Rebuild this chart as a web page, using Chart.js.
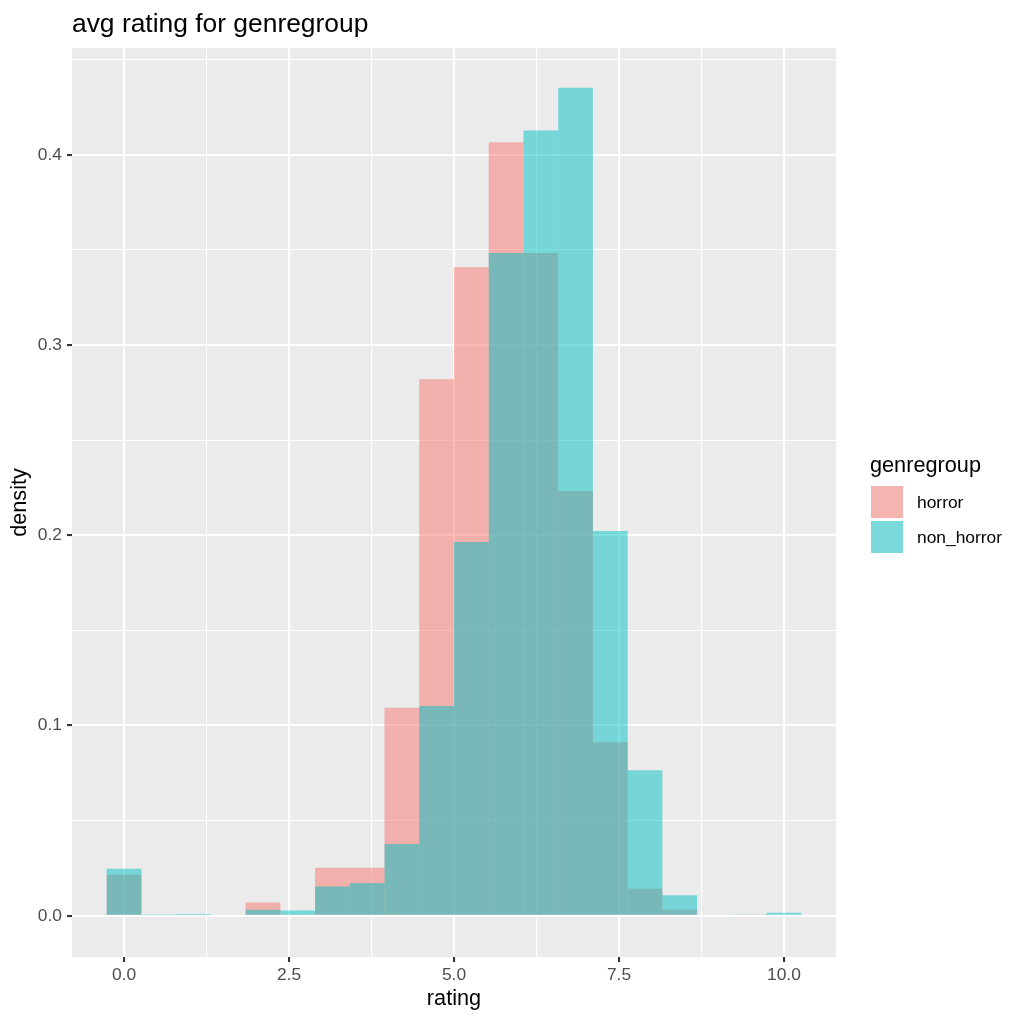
<!DOCTYPE html>
<html>
<head>
<meta charset="utf-8">
<title>avg rating for genregroup</title>
<script src="https://cdn.jsdelivr.net/npm/chart.js@4/dist/chart.umd.min.js"></script>
<style>
  html, body { margin: 0; padding: 0; background: #fff; }
  canvas { display: block; }
</style>
</head>
<body>
<canvas id="ratingHist" width="1024" height="1024"></canvas>
<script>
// histogram bin centres (20 bins across the 0..10 rating range)
const ratingBins = [0, 0.5263, 1.0526, 1.5789, 2.1053, 2.6316, 3.1579, 3.6842, 4.2105, 4.7368,
                    5.2632, 5.7895, 6.3158, 6.8421, 7.3684, 7.8947, 8.4211, 8.9474, 9.4737, 10];

// density per bin
const horror    = [0.0216, 0, 0, 0, 0.0070, 0, 0.0252, 0.0252, 0.1093, 0.2821,
                   0.3409, 0.4067, 0.3484, 0.2233, 0.0912, 0.0142, 0.0032, 0, 0, 0];
const nonHorror = [0.0247, 0.0003, 0.0009, 0, 0.0032, 0.0028, 0.0153, 0.0172, 0.0377, 0.1102,
                   0.1965, 0.3484, 0.4128, 0.4353, 0.2023, 0.0765, 0.0107, 0, 0.0007, 0.0016];

const groupNames = ['horror', 'non_horror'];
const groupColors = ['#F8766D', '#00BFC4'];

const xMajorTicks = [0, 2.5, 5, 7.5, 10];
const xTickLabels = ['0.0', '2.5', '5.0', '7.5', '10.0'];
const xMinorTicks = [1.25, 3.75, 6.25, 8.75];
const yMajorTicks = [0, 0.1, 0.2, 0.3, 0.4];
const yTickLabels = ['0.0', '0.1', '0.2', '0.3', '0.4'];
const yMinorTicks = [0.05, 0.15, 0.25, 0.35, 0.45];

const FONT = "'Liberation Sans', Arial, Helvetica, sans-serif";
Chart.defaults.font.family = FONT;

function hexToRgba(hex, alpha) {
  hex = hex.replace(/^#/, '');
  const r = parseInt(hex.slice(0, 2), 16);
  const g = parseInt(hex.slice(2, 4), 16);
  const b = parseInt(hex.slice(4, 6), 16);
  return `rgba(${r}, ${g}, ${b}, ${alpha})`;
}

function isMajor(major, value) {
  return major.some(m => Math.abs(m - value) < 1e-9);
}

function setTicks(major, minor) {
  return scale => {
    scale.ticks = major.concat(minor).sort((a, b) => a - b).map(v => ({ value: v }));
  };
}

function tickLabel(major, labels) {
  return value => {
    const i = major.findIndex(m => Math.abs(m - value) < 1e-9);
    return i >= 0 ? labels[i] : '';
  };
}

// ggplot-ish grid: white major + thinner minor lines, dark tick marks only on majors
function ggGrid(major) {
  const maj = ctx => ctx.tick && isMajor(major, ctx.tick.value);
  return {
    offset: false,
    color: '#FFFFFF',
    lineWidth: ctx => maj(ctx) ? 2.1 : 1.1,
    drawTicks: true,
    tickLength: 5,
    tickColor: ctx => maj(ctx) ? '#333333' : 'rgba(0,0,0,0)',
    tickWidth: ctx => maj(ctx) ? 2.1 : 0,
  };
}

const ggDecor = {
  id: 'ggDecor',
  beforeDraw(chart) {
    const { ctx, chartArea: a } = chart;
    ctx.save();
    ctx.fillStyle = '#FFFFFF';
    ctx.fillRect(0, 0, chart.width, chart.height);
    ctx.fillStyle = '#EBEBEB';
    ctx.fillRect(a.left, a.top, a.right - a.left, a.bottom - a.top);
    ctx.restore();
  },
  afterDraw(chart, args, opts) {
    const { ctx, chartArea: a } = chart;
    ctx.save();
    ctx.textBaseline = 'alphabetic';
    ctx.textAlign = 'left';

    // plot title
    ctx.fillStyle = '#000000';
    ctx.font = `26.4px ${FONT}`;
    ctx.fillText(opts.title, a.left, 32);

    // legend
    const lx = a.right + 35;
    ctx.font = `21.7px ${FONT}`;
    ctx.fillText(opts.legendTitle, lx - 1, 472);
    ctx.font = `17.4px ${FONT}`;
    chart.data.datasets.forEach((ds, i) => {
      const top = 486 + i * 35;
      ctx.fillStyle = '#F2F2F2';
      ctx.fillRect(lx, top, 32, 32);
      ctx.fillStyle = ds.backgroundColor;
      ctx.fillRect(lx, top, 32, 32);
      ctx.fillStyle = '#000000';
      ctx.fillText(ds.label, lx + 46, top + 22);
    });
    ctx.restore();
  }
};

const ctx = document.getElementById('ratingHist').getContext('2d');

new Chart(ctx, {
  type: 'bar',
  data: {
    datasets: [horror, nonHorror].map((vals, i) => ({
      label: groupNames[i],
      data: ratingBins.map((x, j) => ({ x: x, y: vals[j] })),
      backgroundColor: hexToRgba(groupColors[i], 0.5),
      borderWidth: 0,
      inflateAmount: 0,
      grouped: false,
      barPercentage: 1,
      categoryPercentage: 1,
      order: i === 0 ? 1 : 0,   // non_horror drawn on top
    })),
  },
  options: {
    responsive: false,
    animation: false,
    layout: { padding: { top: 48, left: 0, right: 188, bottom: 0 } },
    plugins: {
      legend: { display: false },
      tooltip: { enabled: false },
      title: { display: false },
      ggDecor: { title: 'avg rating for genregroup', legendTitle: 'genregroup' },
    },
    scales: {
      x: {
        type: 'linear',
        offset: false,
        min: -0.789,
        max: 10.789,
        afterBuildTicks: setTicks(xMajorTicks, xMinorTicks),
        afterFit: scale => { scale.height = 67; },
        grid: ggGrid(xMajorTicks),
        border: { display: false },
        ticks: {
          autoSkip: false,
          maxRotation: 0,
          padding: 3,
          color: '#4D4D4D',
          font: { size: 17.4 },
          callback: tickLabel(xMajorTicks, xTickLabels),
        },
        title: {
          display: true,
          text: 'rating',
          color: '#000000',
          font: { size: 21.7 },
          padding: { top: 0, bottom: 11.5 },
        },
      },
      y: {
        type: 'linear',
        min: -0.0217,
        max: 0.4562,
        afterBuildTicks: setTicks(yMajorTicks, yMinorTicks),
        afterFit: scale => { scale.width = 72; },
        grid: ggGrid(yMajorTicks),
        border: { display: false },
        ticks: {
          autoSkip: false,
          padding: 5,
          color: '#4D4D4D',
          font: { size: 17.4 },
          callback: tickLabel(yMajorTicks, yTickLabels),
        },
        title: {
          display: true,
          text: 'density',
          color: '#000000',
          font: { size: 21.7 },
          padding: { top: 7.4, bottom: 0 },
        },
      },
    },
  },
  plugins: [ggDecor],
});
</script>
</body>
</html>
